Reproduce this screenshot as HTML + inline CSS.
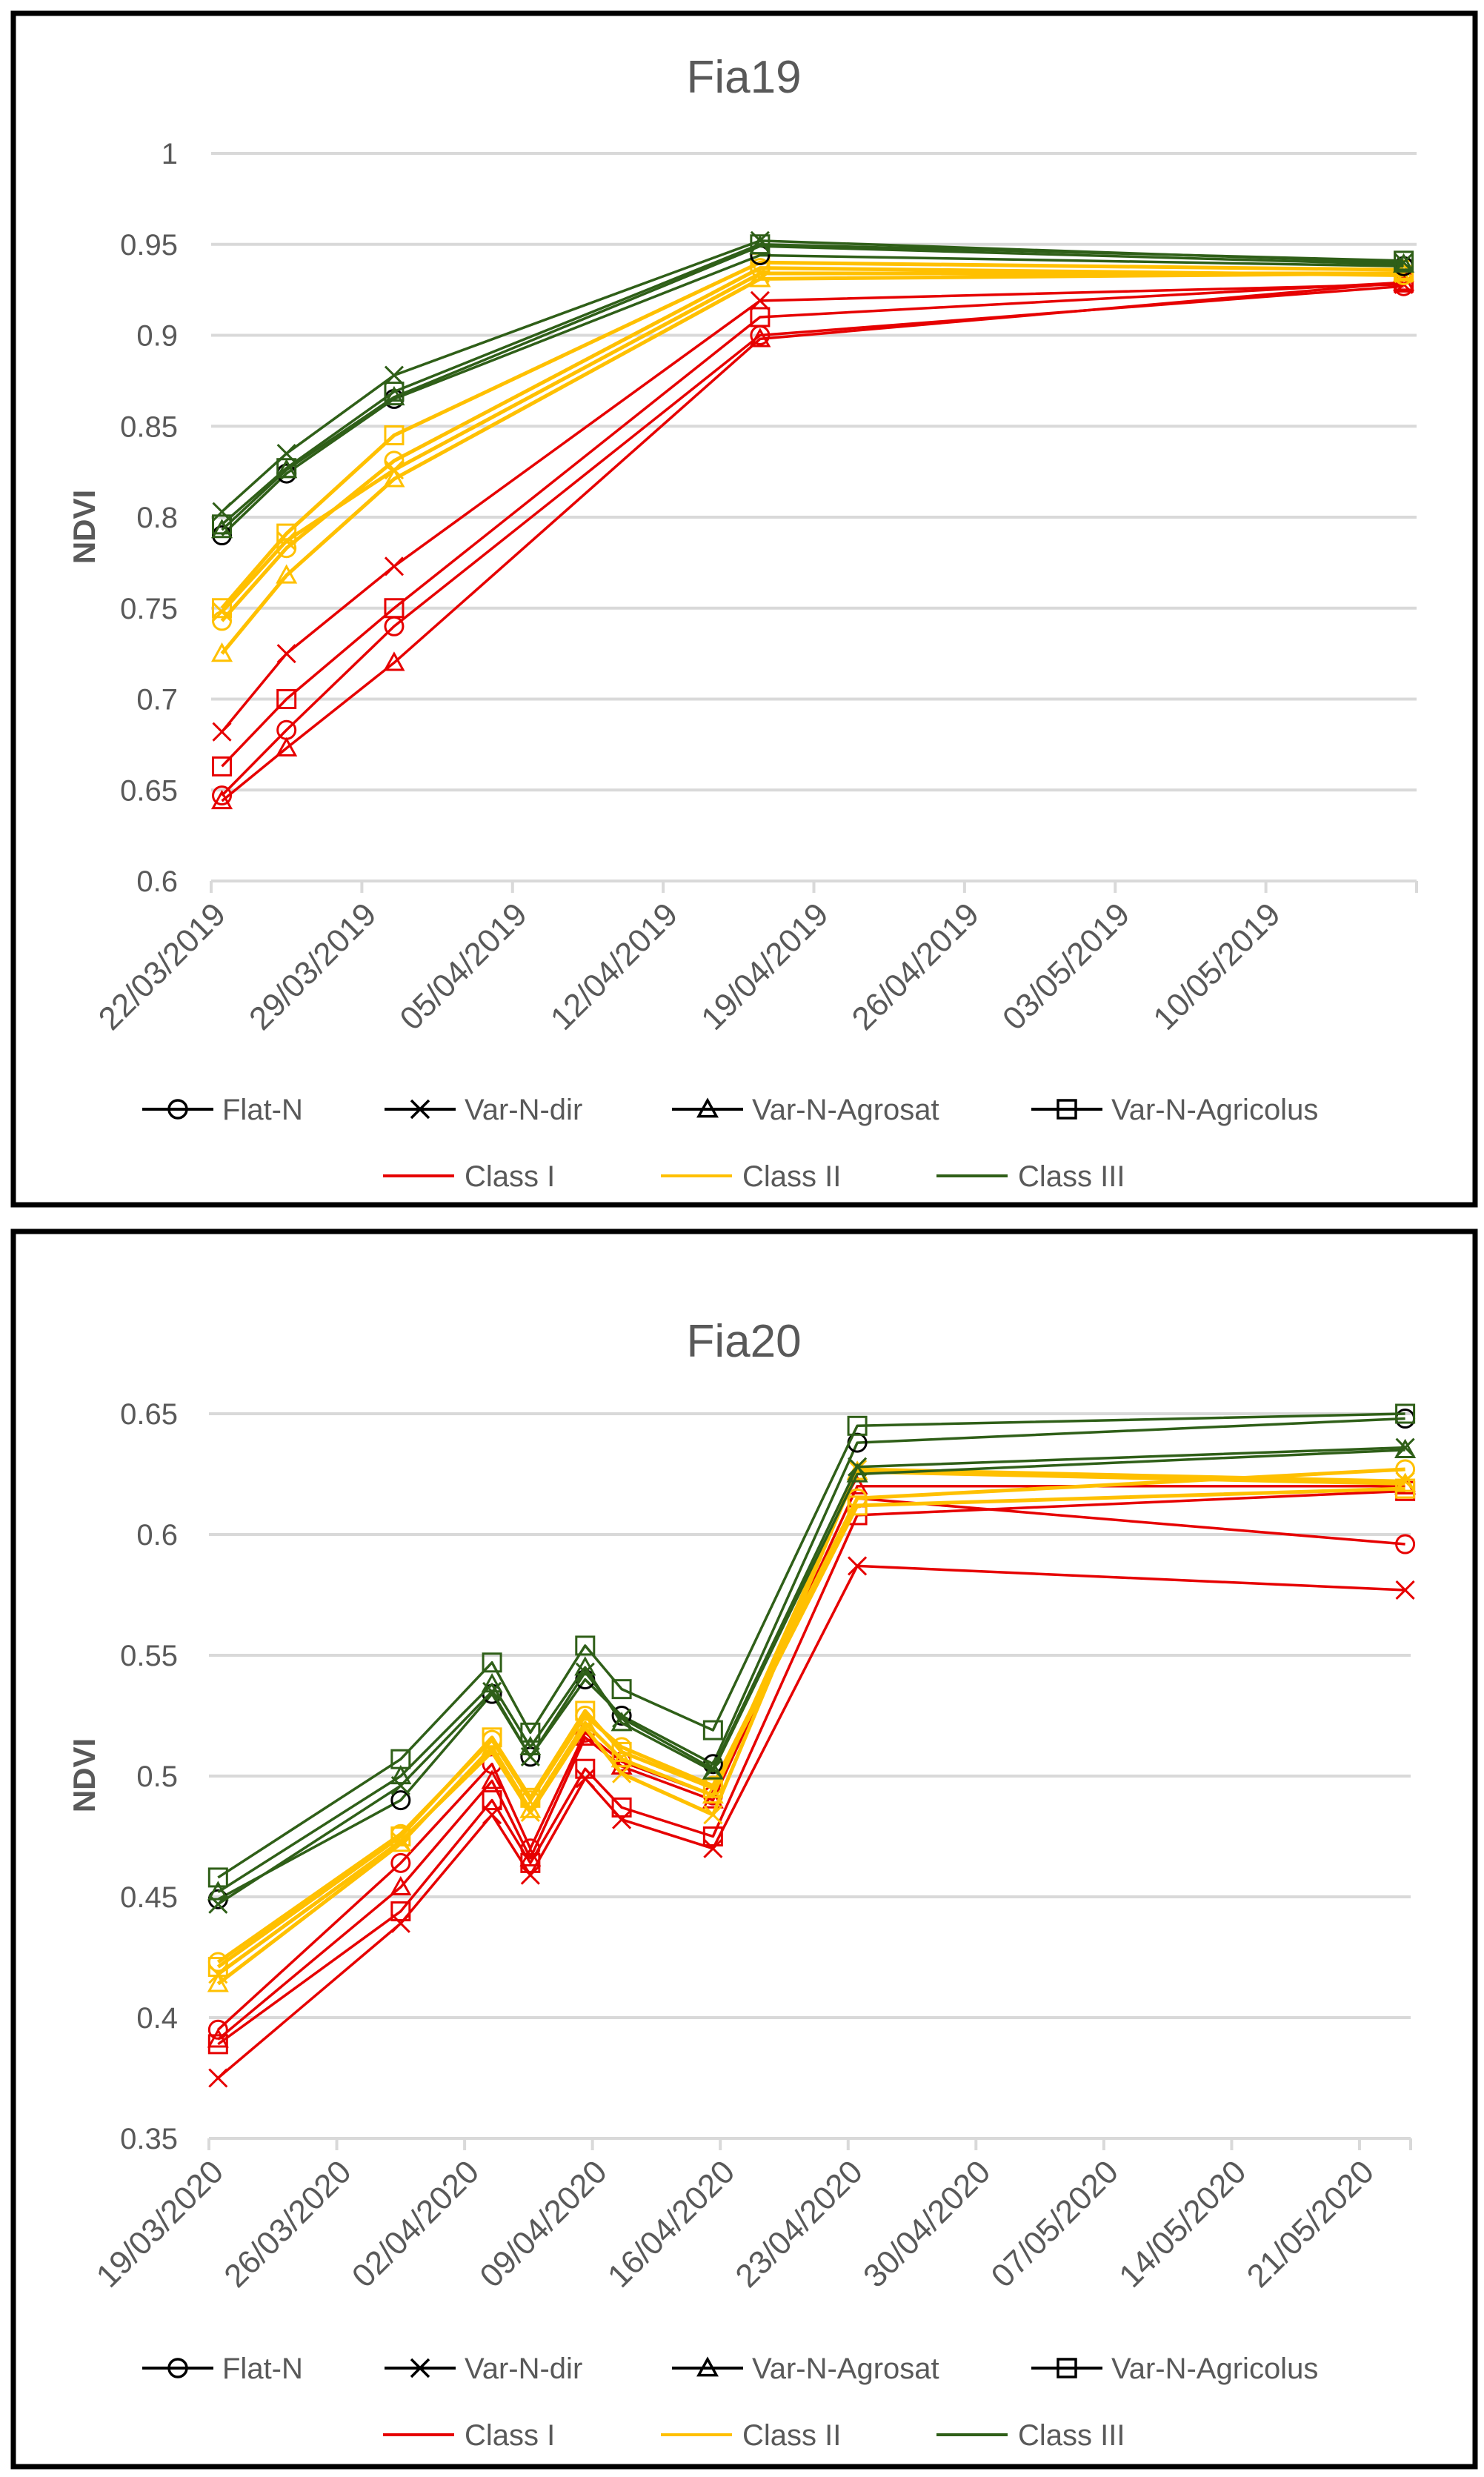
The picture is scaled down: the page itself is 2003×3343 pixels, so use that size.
<!DOCTYPE html>
<html><head><meta charset="utf-8">
<style>
html,body{margin:0;padding:0;background:#fff;}
svg{display:block;}
text{font-family:"Liberation Sans",sans-serif;}
</style></head>
<body>
<svg id="root" width="2003" height="3343" viewBox="0 0 2003 3343" xmlns="http://www.w3.org/2000/svg">
<rect x="18" y="18" width="1973" height="1608" fill="#fff" stroke="#000" stroke-width="7"/>
<rect x="18" y="1662" width="1973" height="1667" fill="#fff" stroke="#000" stroke-width="7"/>
<g id="c1"></g>
<g id="c2"></g>
</svg>
<script>
// ---- Fia19 data ----
const days19 = [0.5, 3.5, 8.5, 25.5, 55.4];
const xTickLabels19 = ["22/03/2019","29/03/2019","05/04/2019","12/04/2019","19/04/2019","26/04/2019","03/05/2019","10/05/2019"];
const yTicks19 = [0.6,0.65,0.7,0.75,0.8,0.85,0.9,0.95,1];
const yTickLabels19 = ["0.6","0.65","0.7","0.75","0.8","0.85","0.9","0.95","1"];
const c1_I_flat = [0.647,0.683,0.740,0.900,0.927];
const c1_I_dir = [0.682,0.725,0.773,0.919,0.928];
const c1_I_agro = [0.644,0.673,0.720,0.898,0.929];
const c1_I_agri = [0.663,0.700,0.750,0.910,0.929];
const c1_II_flat = [0.743,0.783,0.831,0.937,0.933];
const c1_II_dir = [0.748,0.787,0.826,0.934,0.934];
const c1_II_agro = [0.725,0.768,0.821,0.931,0.934];
const c1_II_agri = [0.750,0.791,0.845,0.940,0.936];
const c1_III_flat = [0.790,0.824,0.865,0.944,0.938];
const c1_III_dir = [0.803,0.835,0.878,0.952,0.940];
const c1_III_agro = [0.793,0.826,0.866,0.949,0.939];
const c1_III_agri = [0.796,0.827,0.869,0.950,0.941];

// ---- Fia20 data ----
const days20 = [0.5, 10.5, 15.5, 17.6, 20.6, 22.6, 27.6, 35.5, 65.5];
const xTickLabels20 = ["19/03/2020","26/03/2020","02/04/2020","09/04/2020","16/04/2020","23/04/2020","30/04/2020","07/05/2020","14/05/2020","21/05/2020"];
const yTicks20 = [0.35,0.4,0.45,0.5,0.55,0.6,0.65];
const yTickLabels20 = ["0.35","0.4","0.45","0.5","0.55","0.6","0.65"];
const c2_I_flat = [0.395,0.464,0.505,0.470,0.518,0.506,0.492,0.615,0.596];
const c2_I_dir = [0.375,0.439,0.484,0.459,0.499,0.482,0.470,0.587,0.577];
const c2_I_agro = [0.391,0.454,0.498,0.466,0.516,0.504,0.490,0.620,0.620];
const c2_I_agri = [0.389,0.444,0.490,0.464,0.503,0.487,0.475,0.608,0.618];
const c2_II_flat = [0.423,0.476,0.515,0.490,0.525,0.512,0.496,0.615,0.627];
const c2_II_dir = [0.418,0.473,0.510,0.485,0.520,0.501,0.484,0.627,0.622];
const c2_II_agro = [0.414,0.472,0.512,0.486,0.522,0.507,0.492,0.626,0.621];
const c2_II_agri = [0.421,0.475,0.516,0.491,0.527,0.510,0.495,0.612,0.619];
const c2_III_flat = [0.449,0.490,0.534,0.508,0.540,0.525,0.505,0.638,0.648];
const c2_III_dir = [0.447,0.496,0.535,0.508,0.543,0.524,0.503,0.628,0.636];
const c2_III_agro = [0.452,0.500,0.538,0.512,0.545,0.522,0.502,0.625,0.635];
const c2_III_agri = [0.458,0.507,0.547,0.518,0.554,0.536,0.519,0.645,0.650];

const RED="#e60000", YEL="#ffc000", GRN="#2f5f18";
const NS="http://www.w3.org/2000/svg";
function mk(tag, attrs, parent){const e=document.createElementNS(NS,tag);for(const k in attrs)e.setAttribute(k,attrs[k]);parent.appendChild(e);return e;}

function marker(g, shape, cx, cy, color, lw){
  const s=12; let e;
  if(shape==="circle"){e=mk("circle",{cx:cx,cy:cy,r:s,fill:"none",stroke:color,"stroke-width":lw},g);}
  else if(shape==="x"){e=mk("path",{d:`M${cx-s} ${cy-s}L${cx+s} ${cy+s}M${cx-s} ${cy+s}L${cx+s} ${cy-s}`,fill:"none",stroke:color,"stroke-width":lw},g);}
  else if(shape==="tri"){e=mk("path",{d:`M${cx} ${cy-s}L${cx+s} ${cy+s*0.8}L${cx-s} ${cy+s*0.8}Z`,fill:"none",stroke:color,"stroke-width":lw},g);}
  else {e=mk("rect",{x:cx-s,y:cy-s,width:2*s,height:2*s,fill:"none",stroke:color,"stroke-width":lw},g);}
  return e;
}

function drawChart(g, cfg){
  const X=d=>cfg.x0+(d-cfg.dmin)/(cfg.dmax-cfg.dmin)*(cfg.x1-cfg.x0);
  const Y=v=>cfg.yb+(v-cfg.vmin)/(cfg.vmax-cfg.vmin)*(cfg.yt-cfg.yb);
  let t=mk("text",{x:1004,y:cfg.titleY,"text-anchor":"middle","font-size":62,fill:"#595959"},g);t.textContent=cfg.title;
  
  
  cfg.yTicks.forEach((v,i)=>{
    const l=mk("line",{x1:cfg.x0,x2:cfg.x1,y1:Y(v),y2:Y(v),stroke:"#d9d9d9","stroke-width":4},g);
    
    
    const tx=mk("text",{x:240,y:Y(v)+14,"text-anchor":"end","font-size":40,fill:"#595959"},g);tx.textContent=cfg.yLabels[i];
    
    
  });
  const ax=mk("line",{x1:cfg.x0,x2:cfg.x1,y1:cfg.yb,y2:cfg.yb,stroke:"#d9d9d9","stroke-width":4},g);
  
  
  const nT=Math.floor((cfg.dmax-cfg.dmin)/7);
  for(let k=0;k<=nT+1;k++){
    const d=Math.min(cfg.dmin+7*k,cfg.dmax);const x=X(d);
    const tk=mk("line",{x1:x,x2:x,y1:cfg.yb,y2:cfg.yb+16,stroke:"#d9d9d9","stroke-width":4},g);
    
    
    if(k<cfg.xLabels.length){
      const tx=mk("text",{x:0,y:0,"text-anchor":"end","font-size":44,fill:"#595959",transform:`translate(${x+22},${cfg.yb+48}) rotate(-45)`},g);
      tx.textContent=cfg.xLabels[k];
      
      
    }
  }
  const nd=mk("text",{x:0,y:0,"text-anchor":"middle","font-size":42,"font-weight":"bold",fill:"#595959",transform:`translate(${128},${cfg.ndviY}) rotate(-90)`},g);
  nd.textContent="NDVI";
  
  
  cfg.series.forEach(s=>{
    const sg=mk("g",{},g);
    
    
    const lw = s.color===YEL?5:3.5;
    const pts=s.vals.map((v,i)=>X(cfg.days[i])+","+Y(v)).join(" ");
    mk("polyline",{points:pts,fill:"none",stroke:s.color,"stroke-width":lw,"stroke-linejoin":"round"},sg);
    s.vals.forEach((v,i)=>{
      const mc=(s.color===GRN&&s.shape==="circle")?"#000":s.color;
      const m=marker(sg,s.shape,X(cfg.days[i]),Y(v),mc,3);
      
      
    });
  });
  const L=cfg.legY;
  const row1=[["circle","Flat-N",192],["x","Var-N-dir",519],["tri","Var-N-Agrosat",907],["rect","Var-N-Agricolus",1392]];
  row1.forEach(r=>{
    const lg=mk("g",{},g);
    
    
    mk("line",{x1:r[2],x2:r[2]+96,y1:L,y2:L,stroke:"#000","stroke-width":4},lg);
    marker(lg,r[0],r[2]+48,L,"#000",3.5);
    const tx=mk("text",{x:r[2]+108,y:L+14,"font-size":40,fill:"#595959"},lg);tx.textContent=r[1];
  });
  const row2=[[RED,"Class I",517],[YEL,"Class II",892],[GRN,"Class III",1264]];
  row2.forEach(r=>{
    const lg=mk("g",{},g);
    
    
    mk("line",{x1:r[2],x2:r[2]+96,y1:L+90,y2:L+90,stroke:r[0],"stroke-width":4},lg);
    const tx=mk("text",{x:r[2]+110,y:L+104,"font-size":40,fill:"#595959"},lg);tx.textContent=r[1];
  });
}
function ser(a){return [
 {name:"class1-flat-n",color:RED,shape:"circle",vals:a[0]},{name:"class1-var-n-dir",color:RED,shape:"x",vals:a[1]},
 {name:"class1-var-n-agrosat",color:RED,shape:"tri",vals:a[2]},{name:"class1-var-n-agricolus",color:RED,shape:"rect",vals:a[3]},
 {name:"class2-flat-n",color:YEL,shape:"circle",vals:a[4]},{name:"class2-var-n-dir",color:YEL,shape:"x",vals:a[5]},
 {name:"class2-var-n-agrosat",color:YEL,shape:"tri",vals:a[6]},{name:"class2-var-n-agricolus",color:YEL,shape:"rect",vals:a[7]},
 {name:"class3-flat-n",color:GRN,shape:"circle",vals:a[8]},{name:"class3-var-n-dir",color:GRN,shape:"x",vals:a[9]},
 {name:"class3-var-n-agrosat",color:GRN,shape:"tri",vals:a[10]},{name:"class3-var-n-agricolus",color:GRN,shape:"rect",vals:a[11]}];}

drawChart(document.getElementById("c1"),{title:"Fia19",titleY:125,x0:285,x1:1912,dmin:0,dmax:56,yt:207,yb:1189,vmin:0.6,vmax:1,
  yTicks:yTicks19,yLabels:yTickLabels19,xLabels:xTickLabels19,days:days19,ndviY:711,legY:1497,
  series:ser([c1_I_flat,c1_I_dir,c1_I_agro,c1_I_agri,c1_II_flat,c1_II_dir,c1_II_agro,c1_II_agri,c1_III_flat,c1_III_dir,c1_III_agro,c1_III_agri])});
drawChart(document.getElementById("c2"),{title:"Fia20",titleY:1831,x0:282,x1:1904,dmin:0,dmax:65.8,yt:1908,yb:2886,vmin:0.35,vmax:0.65,
  yTicks:yTicks20,yLabels:yTickLabels20,xLabels:xTickLabels20,days:days20,ndviY:2396,legY:3196,
  series:ser([c2_I_flat,c2_I_dir,c2_I_agro,c2_I_agri,c2_II_flat,c2_II_dir,c2_II_agro,c2_II_agri,c2_III_flat,c2_III_dir,c2_III_agro,c2_III_agri])});
</script>
</body></html>
